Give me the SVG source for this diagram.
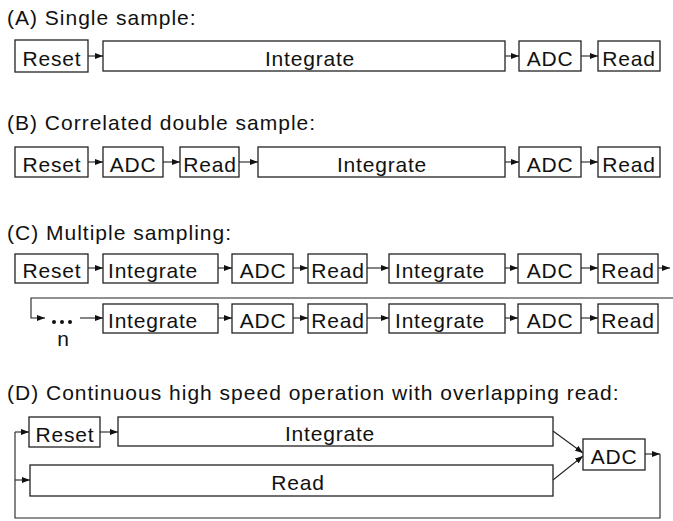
<svg xmlns="http://www.w3.org/2000/svg" width="673" height="521" viewBox="0 0 673 521">
<style>
.t{font-family:"Liberation Sans",Arial,Helvetica,sans-serif;font-size:21px;letter-spacing:1px;fill:#111}
.l{font-family:"Liberation Sans",Arial,Helvetica,sans-serif;font-size:21px;letter-spacing:0.8px;fill:#111;text-anchor:middle}
.ls{text-anchor:start}
.b{fill:#fff;stroke:#222;stroke-width:1.3}
.c{fill:none;stroke:#222;stroke-width:1.1}
.a{marker-end:url(#ah)}
</style>
<defs>
<marker id="ah" markerUnits="userSpaceOnUse" markerWidth="9" markerHeight="7" refX="8" refY="3.5" orient="auto">
<path d="M0,0.5 L8,3.5 L0,6.5 Z" fill="#111"/>
</marker>
</defs>
<rect width="673" height="521" fill="#fff"/>

<text class="t" x="7" y="25">(A) Single sample:</text>
<text class="t" x="7" y="130">(B) Correlated double sample:</text>
<text class="t" x="7" y="240">(C) Multiple sampling:</text>
<text class="t" x="7" y="400">(D) Continuous high speed operation with overlapping read:</text>

<g id="connectors">
<line class="c a" x1="88" y1="56" x2="103" y2="56"/>
<line class="c a" x1="505" y1="56" x2="519" y2="56"/>
<line class="c a" x1="581" y1="56" x2="598" y2="56"/>
<line class="c a" x1="88" y1="162" x2="103" y2="162"/>
<line class="c a" x1="163" y1="162" x2="180" y2="162"/>
<line class="c a" x1="239" y1="162" x2="258" y2="162"/>
<line class="c a" x1="505" y1="162" x2="519" y2="162"/>
<line class="c a" x1="581" y1="162" x2="598" y2="162"/>
<line class="c a" x1="88" y1="268" x2="103" y2="268"/>
<line class="c a" x1="218" y1="268" x2="232" y2="268"/>
<line class="c a" x1="293" y1="268" x2="308" y2="268"/>
<line class="c a" x1="367" y1="268" x2="389" y2="268"/>
<line class="c a" x1="505" y1="268" x2="518" y2="268"/>
<line class="c a" x1="581" y1="268" x2="598" y2="268"/>
<line class="c a" x1="658" y1="268" x2="670" y2="268"/>
<polyline class="c a" points="673,298 31,298 31,318 45,318"/>
<line class="c a" x1="80" y1="318" x2="103" y2="318"/>
<line class="c a" x1="218" y1="318" x2="232" y2="318"/>
<line class="c a" x1="293" y1="318" x2="308" y2="318"/>
<line class="c a" x1="367" y1="318" x2="389" y2="318"/>
<line class="c a" x1="505" y1="318" x2="518" y2="318"/>
<line class="c a" x1="581" y1="318" x2="598" y2="318"/>
<polyline class="c" points="660,454 660,518 15,518 15,432"/>
<line class="c a" x1="15" y1="432" x2="29" y2="432"/>
<line class="c a" x1="15" y1="480" x2="30" y2="480"/>
<line class="c a" x1="100" y1="432" x2="118" y2="432"/>
<line class="c a" x1="553" y1="431" x2="583" y2="453"/>
<line class="c a" x1="553" y1="480" x2="583" y2="456"/>
<line class="c a" x1="645" y1="454" x2="660" y2="454"/>
</g>

<g id="a-reset"><rect class="b" x="15" y="40" width="73" height="32"/><text class="l" x="52" y="66">Reset</text></g>
<g id="a-integrate"><rect class="b" x="103" y="41" width="402" height="30"/><text class="l" x="310" y="66">Integrate</text></g>
<g id="a-adc"><rect class="b" x="519" y="41" width="62" height="30"/><text class="l" x="550" y="66">ADC</text></g>
<g id="a-read"><rect class="b" x="598" y="41" width="62" height="30"/><text class="l" x="629" y="66">Read</text></g>

<g id="b-reset"><rect class="b" x="15" y="147" width="73" height="30"/><text class="l" x="52" y="172">Reset</text></g>
<g id="b-adc1"><rect class="b" x="103" y="147" width="60" height="30"/><text class="l" x="133" y="172">ADC</text></g>
<g id="b-read1"><rect class="b" x="180" y="147" width="59" height="30"/><text class="l" x="210" y="172">Read</text></g>
<g id="b-integrate"><rect class="b" x="258" y="147" width="247" height="30"/><text class="l" x="382" y="172">Integrate</text></g>
<g id="b-adc2"><rect class="b" x="519" y="147" width="62" height="30"/><text class="l" x="550" y="172">ADC</text></g>
<g id="b-read2"><rect class="b" x="598" y="147" width="62" height="30"/><text class="l" x="629" y="172">Read</text></g>

<g id="c-reset"><rect class="b" x="15" y="254" width="73" height="29"/><text class="l" x="52" y="278">Reset</text></g>
<g id="c-int1"><rect class="b" x="103" y="254" width="115" height="29"/><text class="l ls" x="108" y="278">Integrate</text></g>
<g id="c-adc1"><rect class="b" x="232" y="254" width="61" height="29"/><text class="l" x="263" y="278">ADC</text></g>
<g id="c-read1"><rect class="b" x="308" y="254" width="59" height="29"/><text class="l" x="338" y="278">Read</text></g>
<g id="c-int2"><rect class="b" x="389" y="254" width="116" height="29"/><text class="l ls" x="395" y="278">Integrate</text></g>
<g id="c-adc2"><rect class="b" x="518" y="254" width="63" height="29"/><text class="l" x="550" y="278">ADC</text></g>
<g id="c-read2"><rect class="b" x="598" y="254" width="60" height="29"/><text class="l" x="628" y="278">Read</text></g>

<g id="c-dots"><circle cx="54" cy="322" r="2" fill="#111"/><circle cx="62" cy="322" r="2" fill="#111"/><circle cx="70" cy="322" r="2" fill="#111"/><text class="l" x="63" y="346" style="letter-spacing:0">n</text></g>
<g id="c-int3"><rect class="b" x="103" y="304" width="115" height="29"/><text class="l ls" x="108" y="328">Integrate</text></g>
<g id="c-adc3"><rect class="b" x="232" y="304" width="61" height="29"/><text class="l" x="263" y="328">ADC</text></g>
<g id="c-read3"><rect class="b" x="308" y="304" width="59" height="29"/><text class="l" x="338" y="328">Read</text></g>
<g id="c-int4"><rect class="b" x="389" y="304" width="116" height="29"/><text class="l ls" x="395" y="328">Integrate</text></g>
<g id="c-adc4"><rect class="b" x="518" y="304" width="63" height="29"/><text class="l" x="550" y="328">ADC</text></g>
<g id="c-read4"><rect class="b" x="598" y="304" width="60" height="29"/><text class="l" x="628" y="328">Read</text></g>

<g id="d-reset"><rect class="b" x="29" y="417" width="71" height="30"/><text class="l" x="65" y="442">Reset</text></g>
<g id="d-integrate"><rect class="b" x="118" y="417" width="435" height="29"/><text class="l" x="330" y="441">Integrate</text></g>
<g id="d-read"><rect class="b" x="30" y="465" width="523" height="31"/><text class="l" x="298" y="490">Read</text></g>
<g id="d-adc"><rect class="b" x="583" y="439" width="62" height="31"/><text class="l" x="614" y="464">ADC</text></g>
</svg>
